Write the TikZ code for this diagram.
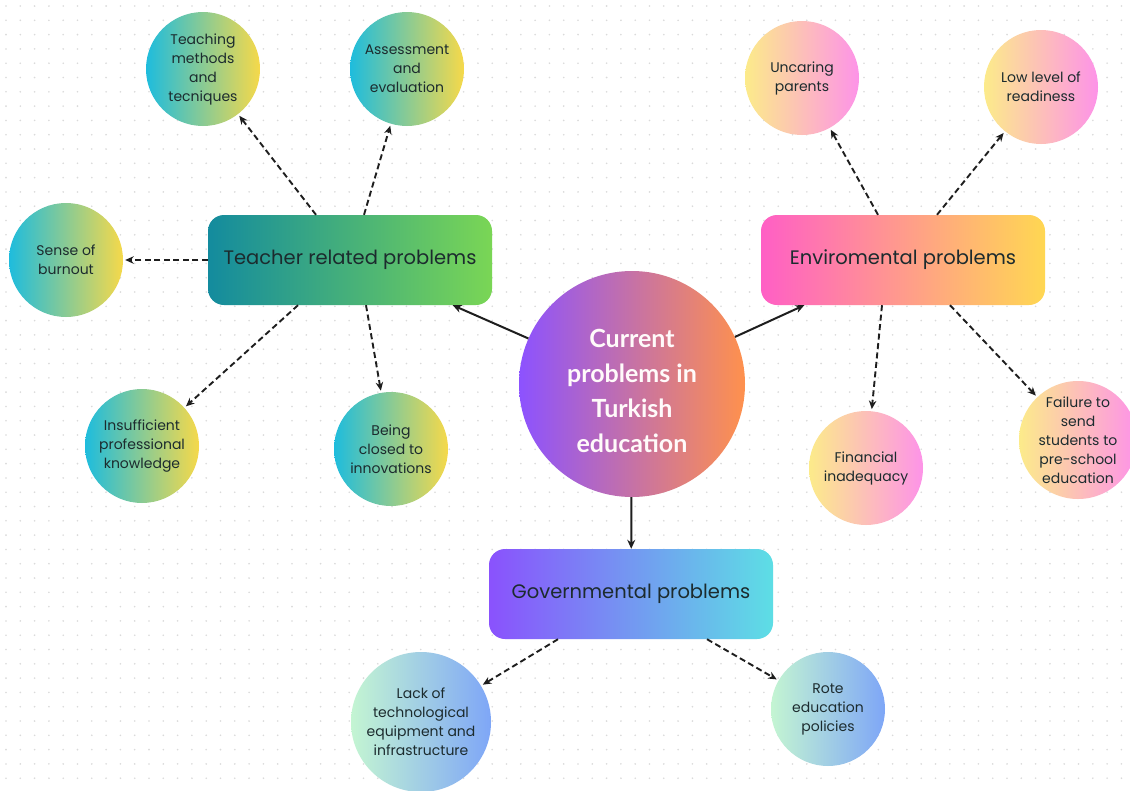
\documentclass[tikz,border=0pt]{standalone}
\usepackage{fontspec}
\setmainfont{Poppins}
\newfontfamily\centerfont{Lato}
\usetikzlibrary{arrows.meta}
\definecolor{dotc}{HTML}{DADADA}
\definecolor{tcL}{HTML}{1EBCDD}
\definecolor{tcR}{HTML}{F6D94A}
\definecolor{tbL}{HTML}{138B9E}
\definecolor{tbR}{HTML}{7AD655}
\definecolor{ecL}{HTML}{FCEB8A}
\definecolor{ecR}{HTML}{FD93E8}
\definecolor{ebL}{HTML}{FF5FC5}
\definecolor{ebR}{HTML}{FFD752}
\definecolor{gbL}{HTML}{8A52FD}
\definecolor{gbR}{HTML}{5DDEE5}
\definecolor{gcL}{HTML}{C4F5D2}
\definecolor{gcR}{HTML}{7EA6F7}
\definecolor{ccL}{HTML}{8C52FF}
\definecolor{ccR}{HTML}{FF914D}
\definecolor{txt}{HTML}{1C2B2E}
\definecolor{linec}{HTML}{1E1E1E}
\tikzset{
  bubble/.style={circle, minimum size=114pt, inner sep=0pt, align=center,
    text=txt, font=\fontsize{14}{19}\selectfont},
  tbubble/.style={bubble, left color=tcL, right color=tcR},
  ebubble/.style={bubble, left color=ecL, right color=ecR},
  gbubble/.style={bubble, left color=gcL, right color=gcR},
  catbox/.style={rounded corners=16pt, minimum width=284pt, minimum height=90pt,
    inner sep=0pt, text=txt, font=\fontsize{19.5}{23}\selectfont},
  mainarrow/.style={draw=linec, line width=2pt, -{Stealth[length=9pt,width=8pt]}},
  subarrow/.style={draw=linec, line width=1.9pt, dash pattern=on 6pt off 3.5pt,
    -{Stealth[length=8.5pt,width=7.5pt]}, shorten >=2pt}
}
\begin{document}
\begin{tikzpicture}[x=1pt,y=-1pt]
\useasboundingbox (0,0) rectangle (1130,790);
\fill[white] (0,0) rectangle (1130,790);
\foreach \i in {0,...,79} {
  \foreach \j in {0,...,55} {
    \fill[dotc] (6+\i*14.3, 6+\j*14.3) circle (0.9pt);
  }
}
% centre
\node[circle, minimum size=226pt, inner sep=0pt, left color=ccL, right color=ccR,
  text=white!92!pink, align=center, font=\centerfont\bfseries\fontsize{25}{35}\selectfont]
  (center) at (632,384) {\rule{0pt}{32pt}Current\\problems in\\Turkish\\education};
% category boxes
\node[catbox, left color=tbL, right color=tbR] (teacher) at (350,260) {Teacher related problems};
\node[catbox, left color=ebL, right color=ebR] (env) at (903,260) {Enviromental problems};
\node[catbox, left color=gbL, right color=gbR] (gov) at (631,594) {Governmental problems};
% teacher bubbles
\node[tbubble] (teach) at (203,69) {Teaching\\methods\\and\\tecniques};
\node[tbubble] (assess) at (407,69) {Assessment\\and\\evaluation};
\node[tbubble] (burnout) at (66,260) {Sense of\\burnout};
\node[tbubble] (insuff) at (142,446) {Insufficient\\professional\\knowledge};
\node[tbubble] (closed) at (391,449) {Being\\closed to\\innovations};
% environmental bubbles
\node[ebubble] (uncaring) at (802,78) {Uncaring\\parents};
\node[ebubble] (lowlevel) at (1041,87) {Low level of\\readiness};
\node[ebubble] (financial) at (866,468) {Financial\\inadequacy};
\node[ebubble, minimum size=118pt] (failure) at (1078,440) {Failure to\\send\\students to\\pre-school\\education};
% governmental bubbles
\node[gbubble, minimum size=140pt] (lack) at (421,722) {Lack of\\technological\\equipment and\\infrastructure};
\node[gbubble] (rote) at (828,709) {Rote\\education\\policies};
% main connectors
\draw[mainarrow] (center) -- (teacher);
\draw[mainarrow] (center) -- (env);
\draw[mainarrow] (center) -- (gov);
% teacher connectors
\draw[subarrow] ([xshift=-34pt]teacher.north) -- (teach);
\draw[subarrow] ([xshift=14pt]teacher.north) -- (assess);
\draw[subarrow] (teacher.west) -- (burnout);
\draw[subarrow] ([xshift=-52pt]teacher.south) -- (insuff);
\draw[subarrow] ([xshift=16pt]teacher.south) -- (closed);
% environmental connectors
\draw[subarrow] ([xshift=-25pt]env.north) -- (uncaring);
\draw[subarrow] ([xshift=34pt]env.north) -- (lowlevel);
\draw[subarrow] ([xshift=-21pt]env.south) -- (financial);
\draw[subarrow] ([xshift=47pt]env.south) -- (failure);
% governmental connectors
\draw[subarrow] ([xshift=-73pt]gov.south) -- (lack);
\draw[subarrow] ([xshift=76pt]gov.south) -- (rote);
\end{tikzpicture}
\end{document}
